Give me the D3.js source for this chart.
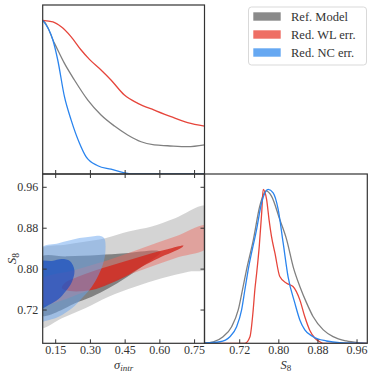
<!DOCTYPE html>
<html>
<head>
<meta charset="utf-8">
<script src="https://cdn.jsdelivr.net/npm/d3@7"></script>
<style>
  body { margin: 0; background: #fff; }
  svg { display: block; }
  svg text { font-family: "Liberation Serif", "DejaVu Serif", serif !important; fill: #333; }
  .axis text { font-size: 12px; }
  .axis line { stroke: #333; stroke-width: 1; }
</style>
</head>
<body>
<svg id="chart" width="374" height="374"></svg>
<script>
// axis ranges
const sigmaRange = [0.096, 0.795];
const s8RangeX = [0.649, 0.982];
const s8RangeY = [0.654, 0.985];
const densityRange = [0, 1.1];

const sigmaTicks = [0.15, 0.30, 0.45, 0.60, 0.75];
const s8Ticks = [0.72, 0.80, 0.88, 0.96];

const seriesNames = ['Ref. Model', 'Red. WL err.', 'Red. NC err.'];

// 1D marginal of sigma_intr, [sigma, normalised density]
const sigmaRef = [[0.08, 1.0], [0.096, 1.0], [0.147, 0.85], [0.19, 0.72], [0.233, 0.612], [0.291, 0.481], [0.348, 0.384],
  [0.406, 0.312], [0.463, 0.254], [0.521, 0.21], [0.578, 0.189], [0.636, 0.184], [0.722, 0.178], [0.795, 0.19]];
const sigmaWL = [[0.096, 1.0], [0.14, 0.99], [0.176, 0.958], [0.219, 0.893], [0.262, 0.807], [0.298, 0.746], [0.348, 0.677],
  [0.391, 0.612], [0.449, 0.514], [0.507, 0.46], [0.578, 0.416], [0.65, 0.373], [0.722, 0.334], [0.795, 0.312]];
const sigmaNC = [[0.096, 1.0], [0.14, 0.872], [0.161, 0.742], [0.19, 0.503], [0.219, 0.351], [0.255, 0.2], [0.283, 0.113],
  [0.334, 0.054], [0.391, 0.031], [0.449, 0.008], [0.492, 0], [0.795, 0]];

// 1D marginal of S8, [S8, normalised density]
const s8Ref = [[0.649, 0.002], [0.667, 0.01], [0.687, 0.043], [0.7045, 0.108], [0.718, 0.217], [0.728, 0.369], [0.735, 0.478],
  [0.749, 0.674], [0.762, 0.891], [0.775, 0.99], [0.786, 0.956], [0.803, 0.804], [0.817, 0.674], [0.831, 0.49],
  [0.844, 0.369], [0.858, 0.261], [0.871, 0.174], [0.892, 0.087], [0.912, 0.043], [0.939, 0.015], [0.963, 0.004], [0.982, 0]];
const s8WL = [[0.649, 0], [0.7316, 0], [0.742, 0.043], [0.7486, 0.217], [0.752, 0.348], [0.7555, 0.45], [0.761, 0.63],
  [0.766, 0.848], [0.769, 1.0], [0.776, 0.935], [0.781, 0.804], [0.786, 0.695], [0.793, 0.587], [0.803, 0.434],
  [0.8168, 0.39], [0.83, 0.369], [0.844, 0.282], [0.854, 0.174], [0.864, 0.087], [0.875, 0.033], [0.885, 0.01],
  [0.892, 0], [0.982, 0]];
const s8NC = [[0.649, 0.002], [0.6806, 0.01], [0.701, 0.043], [0.7147, 0.108], [0.7249, 0.217], [0.7316, 0.348],
  [0.7384, 0.478], [0.7555, 0.739], [0.7658, 0.913], [0.7792, 1.0], [0.7894, 0.978], [0.7997, 0.87], [0.8099, 0.652],
  [0.8201, 0.43], [0.8338, 0.261], [0.844, 0.152], [0.8542, 0.087], [0.8711, 0.043], [0.8985, 0.015], [0.9257, 0.004], [0.982, 0]];

// 2D credible regions (68% inner, 95% outer), outlines as [sigma, S8]
const refOuter = [[0.08, 0.835], [0.2, 0.847], [0.3659, 0.8595], [0.4668, 0.8724], [0.5673, 0.8822], [0.6679, 0.8987],
  [0.81, 0.922], [0.81, 0.801], [0.7257, 0.7941], [0.6105, 0.7812], [0.4953, 0.7648], [0.3805, 0.7452],
  [0.2795, 0.7225], [0.1789, 0.7029], [0.08, 0.684]];
const refInner = [[0.08, 0.821], [0.2, 0.824], [0.3373, 0.8268], [0.4521, 0.8301], [0.5963, 0.8347], [0.606, 0.8315],
  [0.5963, 0.8268], [0.5242, 0.8039], [0.4521, 0.7812], [0.3805, 0.7616], [0.3084, 0.7452], [0.251, 0.7354], [0.08, 0.709]];
const wlOuter = [[0.08, 0.776], [0.2363, 0.7975], [0.3805, 0.817], [0.5242, 0.8399], [0.6679, 0.8626], [0.81, 0.8845],
  [0.81, 0.842], [0.6679, 0.8204], [0.5242, 0.7975], [0.3805, 0.7734], [0.2795, 0.755], [0.08, 0.731]];
const wlInner = [[0.7042, 0.845], [0.6394, 0.8386], [0.5673, 0.8301], [0.4953, 0.8204], [0.4236, 0.8106], [0.3516, 0.8008],
  [0.2566, 0.7857], [0.1919, 0.772], [0.1789, 0.7622], [0.2134, 0.7563], [0.3084, 0.7583], [0.3805, 0.7695],
  [0.4521, 0.7843], [0.5242, 0.8039], [0.5963, 0.8204], [0.6969, 0.8411]];
const ncOuter = [[0.08, 0.8375], [0.1647, 0.8497], [0.2363, 0.8581], [0.3084, 0.8626], [0.3442, 0.864], [0.3623, 0.8591],
  [0.3667, 0.8327], [0.358, 0.8112], [0.3373, 0.7877], [0.3084, 0.7648], [0.2652, 0.7421], [0.2221, 0.7225],
  [0.1647, 0.706], [0.1068, 0.6976], [0.08, 0.695]];
const ncInner = [[0.08, 0.8125], [0.1358, 0.8151], [0.1789, 0.819], [0.2134, 0.8151], [0.2329, 0.7975], [0.2221, 0.774],
  [0.1962, 0.7563], [0.1647, 0.7407], [0.1216, 0.7289], [0.08, 0.721]];

// panel edges in px
const L = 42.7, M = 204.5, R = 367.3, T = 5, MID = 174, B = 343.3;

const lineColors = ['#808080', '#e6453b', '#2a84ee'];
const legendColors = ['#8a8a8a', '#ee6e64', '#66a8f2'];

const svg = d3.select('#chart');

const xSigma = d3.scaleLinear().domain(sigmaRange).range([L, M]);
const xS8 = d3.scaleLinear().domain(s8RangeX).range([M, R]);
const yS8 = d3.scaleLinear().domain(s8RangeY).range([B, MID]);
const yTop = d3.scaleLinear().domain(densityRange).range([MID, T]);
const yRight = d3.scaleLinear().domain(densityRange).range([B, MID]);

// clip paths for each panel
const defs = svg.append('defs');
[['clip-top', L, T, M - L, MID - T], ['clip-2d', L, MID, M - L, B - MID], ['clip-right', M, MID, R - M, B - MID]]
  .forEach(([id, x, y, w, h]) => {
    defs.append('clipPath').attr('id', id)
      .append('rect').attr('x', x).attr('y', y).attr('width', w).attr('height', h);
  });

// --- 2D contours
const contourLine = d3.line()
  .x(d => xSigma(d[0]))
  .y(d => yS8(d[1]))
  .curve(d3.curveCatmullRomClosed.alpha(0.5));

const g2d = svg.append('g').attr('clip-path', 'url(#clip-2d)');
const regions = [
  { pts: refOuter, fill: '#bdbdbd', op: 0.65 },
  { pts: refInner, fill: '#555555', op: 0.65 },
  { pts: wlOuter, fill: '#f0675a', op: 0.45 },
  { pts: wlInner, fill: '#d2281e', op: 0.8 },
  { pts: ncOuter, fill: '#6aa6f0', op: 0.5 },
  { pts: ncInner, fill: '#0c44c4', op: 0.62 },
];
g2d.selectAll('path')
  .data(regions)
  .join('path')
  .attr('d', d => contourLine(d.pts))
  .attr('fill', d => d.fill)
  .attr('fill-opacity', d => d.op)
  .attr('stroke', 'none');

// --- 1D marginals
const topLine = d3.line().x(d => xSigma(d[0])).y(d => yTop(d[1])).curve(d3.curveMonotoneX);
const rightLine = d3.line().x(d => xS8(d[0])).y(d => yRight(d[1])).curve(d3.curveMonotoneX);

svg.append('g').attr('clip-path', 'url(#clip-top)')
  .selectAll('path')
  .data([sigmaRef, sigmaWL, sigmaNC])
  .join('path')
  .attr('d', topLine)
  .attr('fill', 'none')
  .attr('stroke', (d, i) => lineColors[i])
  .attr('stroke-width', 1.3);

svg.append('g').attr('clip-path', 'url(#clip-right)')
  .selectAll('path')
  .data([s8Ref, s8WL, s8NC])
  .join('path')
  .attr('d', rightLine)
  .attr('fill', 'none')
  .attr('stroke', (d, i) => lineColors[i])
  .attr('stroke-width', 1.3);

// --- axes (ticks point inwards)
const fmt = d3.format('.2f');
const noLabel = () => '';

function addAxis(axis, transform) {
  svg.append('g').attr('class', 'axis').attr('transform', transform)
    .call(axis)
    .attr('font-family', null)
    .attr('font-size', null);
}
addAxis(d3.axisBottom(xSigma).tickValues(sigmaTicks).tickSize(-4).tickFormat(noLabel), `translate(0,${MID})`);
addAxis(d3.axisTop(xSigma).tickValues(sigmaTicks).tickSize(-4).tickFormat(noLabel), `translate(0,${MID})`);
addAxis(d3.axisBottom(xSigma).tickValues(sigmaTicks).tickSize(-4).tickPadding(2.5).tickFormat(fmt), `translate(0,${B})`);
addAxis(d3.axisLeft(yS8).tickValues(s8Ticks).tickSize(-4).tickPadding(4.5).tickFormat(fmt), `translate(${L},0)`);
addAxis(d3.axisRight(yS8).tickValues(s8Ticks).tickSize(-4).tickFormat(noLabel), `translate(${M},0)`);
addAxis(d3.axisBottom(xS8).tickValues(s8Ticks).tickSize(-4).tickPadding(2.5).tickFormat(fmt), `translate(0,${B})`);

svg.selectAll('.axis .domain').remove();

// panel frames
[[L, T, M - L, MID - T], [L, MID, M - L, B - MID], [M, MID, R - M, B - MID]].forEach(([x, y, w, h]) => {
  svg.append('rect')
    .attr('x', x).attr('y', y).attr('width', w).attr('height', h)
    .attr('fill', 'none').attr('stroke', '#333').attr('stroke-width', 1.2);
});

// axis titles
const sigLabel = svg.append('text')
  .attr('x', (L + M) / 2).attr('y', 368.5)
  .attr('text-anchor', 'middle')
  .style('font-size', '12.5px');
sigLabel.append('tspan').style('font-style', 'italic').text('σ');
sigLabel.append('tspan').style('font-style', 'italic').style('font-size', '9px')
  .attr('dy', 2.2).text('intr');

const s8Bottom = svg.append('text')
  .attr('x', (M + R) / 2).attr('y', 368.5)
  .attr('text-anchor', 'middle')
  .style('font-size', '12.5px');
s8Bottom.append('tspan').style('font-style', 'italic').text('S');
s8Bottom.append('tspan').style('font-size', '9px').attr('dy', 2.2).text('8');

const s8Left = svg.append('text')
  .attr('transform', `translate(16,${(MID + B) / 2}) rotate(-90)`)
  .attr('text-anchor', 'middle')
  .style('font-size', '13px');
s8Left.append('tspan').style('font-style', 'italic').text('S');
s8Left.append('tspan').style('font-size', '9.5px').attr('dy', 2.5).text('8');

// legend
const legend = svg.append('g');
legend.append('rect')
  .attr('x', 248.5).attr('y', 7).attr('width', 118).attr('height', 58).attr('rx', 3)
  .attr('fill', '#fff').attr('stroke', '#d9d9d9').attr('stroke-width', 1);
const rows = legend.selectAll('g.row')
  .data(seriesNames)
  .join('g')
  .attr('class', 'row')
  .attr('transform', (d, i) => `translate(0,${12.3 + i * 18})`);
rows.append('rect')
  .attr('x', 253.3).attr('y', 0).attr('width', 27.4).attr('height', 8.4)
  .attr('fill', (d, i) => legendColors[i]);
rows.append('text')
  .attr('x', 291).attr('y', 8.3)
  .style('font-size', '12.5px')
  .text(d => d);
</script>
</body>
</html>
